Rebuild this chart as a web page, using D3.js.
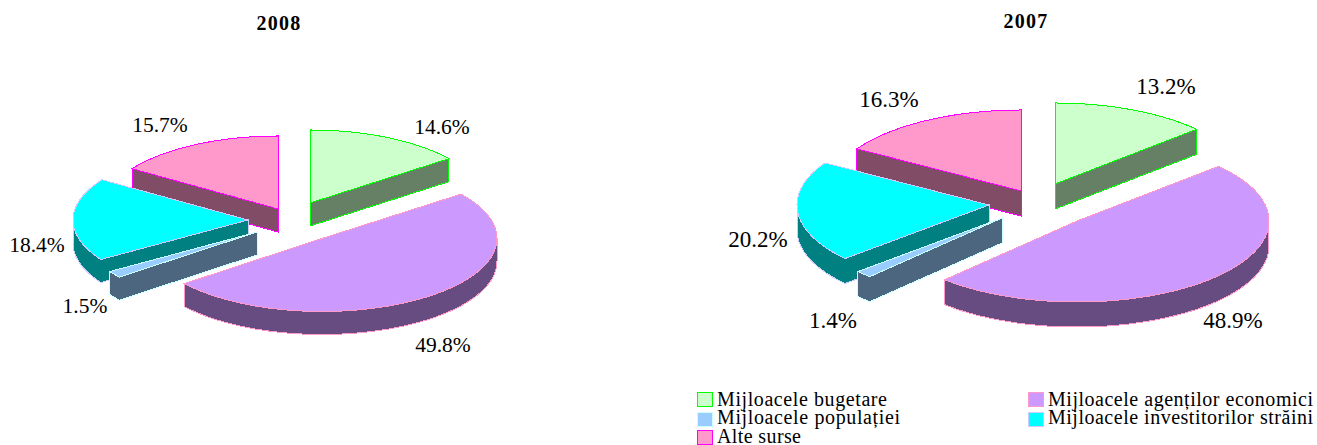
<!DOCTYPE html>
<html>
<head>
<meta charset="utf-8">
<script src="https://cdnjs.cloudflare.com/ajax/libs/d3/7.9.0/d3.min.js"></script>
<style>
html,body{margin:0;padding:0;background:#fff;}
svg{display:block;font-family:"Liberation Serif","Times New Roman",serif;fill:#000;}
path{shape-rendering:crispEdges;}
</style>
</head>
<body>
<svg id="c" width="1317" height="445"></svg>
<script>
const categories = ["Mijloacele bugetare","Mijloacele agenților economici","Mijloacele populației","Mijloacele investitorilor străini","Alte surse"];
const values2008 = [14.6,49.8,1.5,18.4,15.7];
const values2007 = [13.2,48.9,1.4,20.2,16.3];
const years = ["2008","2007"];

const fills   = ["#CCFFCC","#CC99FF","#99CCFF","#00FFFF","#FF99CC"];
const strokes = ["#00FF00","#FF99CC","#CCFFFF","#CCCCFF","#FF00FF"];
const sides   = ["#668066","#664C80","#4D6680","#008080","#804C66"];

// layout (not data)
const layouts = [
  {rx:175, ry:73, depth:23, titleX:279, titleY:30, labelSize:21.5,
   apex:[[310,203],[322,238.5],[257,232],[248,220],[278,209]],
   labels:[[442,134],[443,352],[85,313],[37,252],[160,132]]},
  {rx:192, ry:81, depth:25, titleX:1026, titleY:28, labelSize:23,
   apex:[[1055,184],[1077,221],[1002,218],[989,205],[1021,191]],
   labels:[[1166,94],[1233,328],[833,328],[758,247],[889,107]]}
];

const svg = d3.select("#c");
const pie = d3.pie().sort(null).value(d=>d).startAngle(0).endAngle(2*Math.PI);
const line = d3.line().curve(d3.curveLinear);

function drawChart(values, year, L){
  const g = svg.append("g");
  const sx = d3.scaleLinear().domain([-1,1]).range([-L.rx,L.rx]);
  const sy = d3.scaleLinear().domain([-1,1]).range([-L.ry,L.ry]);
  const arcs = pie(values);
  const order = [0,4,3,2,1];
  order.forEach(i=>{
    const a = arcs[i], [ax,ay] = L.apex[i];
    const steps = Math.max(3,Math.ceil((a.endAngle-a.startAngle)*180/Math.PI/1.5));
    const ring = [[ax,ay]];
    d3.range(steps+1).forEach(k=>{
      const t = a.startAngle+(a.endAngle-a.startAngle)*k/steps;
      ring.push([ax+sx(Math.sin(t)), ay-sy(Math.cos(t))]);
    });
    const closed = ring.concat([ring[0]]);
    let run = [];
    const flush = ()=>{
      if(run.length>1){
        const poly = run.concat(run.slice().reverse().map(p=>[p[0],p[1]+L.depth]));
        g.append("path").attr("d",line(poly)+"Z")
          .attr("fill",sides[i]).attr("stroke",strokes[i]).attr("stroke-width",1);
      }
      run=[];
    };
    for(let k=0;k<closed.length-1;k++){
      const p=closed[k], q=closed[k+1];
      if(q[0]<p[0]-1e-6){ if(!run.length) run.push(p); run.push(q);} else flush();
    }
    flush();
    g.append("path").attr("d",line(ring)+"Z")
      .attr("fill",fills[i]).attr("stroke",strokes[i]).attr("stroke-width",1);
  });
  g.append("text").attr("x",L.titleX).attr("y",L.titleY).attr("text-anchor","middle")
    .attr("font-size",20).attr("font-weight","bold").attr("letter-spacing",1.2).text(year);
  values.forEach((v,i)=>{
    g.append("text").attr("x",L.labels[i][0]).attr("y",L.labels[i][1])
      .attr("text-anchor","middle").attr("font-size",L.labelSize).text(v.toFixed(1)+"%");
  });
}
drawChart(values2008,years[0],layouts[0]);
drawChart(values2007,years[1],layouts[1]);

// legend
const legendPos = [[697,392],[1028,392],[697,412],[1028,412],[697,430]];
const legendBase = [406,406,424,424,443];
const legendWidth = [170,265,183,265,84];
const legend = svg.append("g");
categories.forEach((c,i)=>{
  const [x,y]=legendPos[i];
  legend.append("rect").attr("x",x+.5).attr("y",y+.5).attr("width",15).attr("height",14)
    .attr("fill",fills[i]).attr("stroke",strokes[i]);
  legend.append("text").attr("x",x+20).attr("y",legendBase[i]).attr("font-size",20)
    .attr("textLength",legendWidth[i]).attr("lengthAdjust","spacing").text(c);
});
</script>
</body>
</html>
